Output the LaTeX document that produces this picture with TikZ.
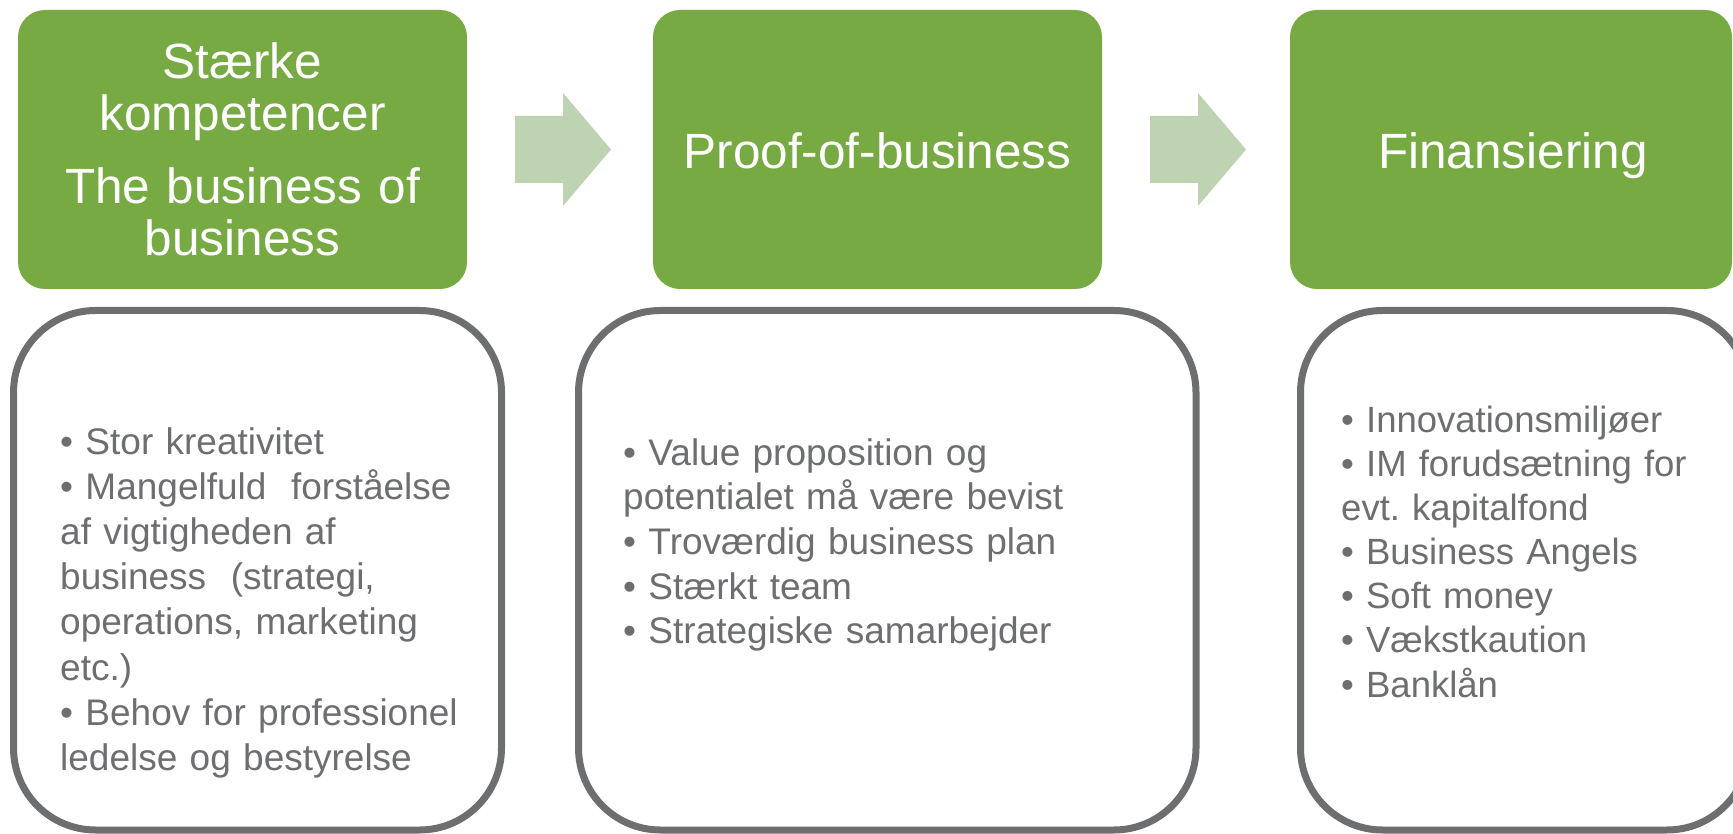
\documentclass[tikz,border=0pt]{standalone}
\usepackage{fontspec}
\setmainfont{Liberation Sans}
\definecolor{boxgreen}{RGB}{119,170,67}
\definecolor{arrowgreen}{RGB}{189,211,178}
\definecolor{framegray}{RGB}{109,110,112}
\definecolor{textgray}{RGB}{109,110,112}
\begin{document}
\frenchspacing
\begin{tikzpicture}[x=1pt,y=-1pt,
  greenbox/.style={fill=boxgreen, draw=none, rounded corners=27pt, inner sep=0pt},
  graybox/.style={draw=framegray, line width=7pt, rounded corners=82pt, inner sep=0pt, fill=white},
  titletext/.style={text=white, font=\fontsize{49.5}{51.5}\selectfont, align=center, inner sep=0pt, anchor=base},
  bodytext/.style={text=textgray, align=left, inner sep=0pt, anchor=base west, text width=520pt},
  blockarrow/.style={fill=arrowgreen}]
\useasboundingbox (0,0) rectangle (1733,834);
\clip (0,0) rectangle (1733,834);
% green header boxes
\node[greenbox, minimum width=449pt, minimum height=279pt] (g1) at (242.5,149.5) {};
\node[greenbox, minimum width=449pt, minimum height=279pt] (g2) at (877.5,149.5) {};
\node[greenbox, minimum width=442pt, minimum height=279pt] (g3) at (1511,149.5) {};
% titles
\node[titletext, text width=440pt] (t1) at (242.5,79) {Stærke\\kompetencer\\[22pt]The business of\\business};
\node[titletext] (t2) at (877.5,169) {Proof-of-business};
\node[titletext] (t3) at (1513,169) {Finansiering};
% block arrows
\fill[blockarrow] (515,116) -- (563,116) -- (563,93) -- (611,149.5) -- (563,206) -- (563,183) -- (515,183) -- cycle;
\fill[blockarrow] (1150,116) -- (1198,116) -- (1198,93) -- (1246,149.5) -- (1198,206) -- (1198,183) -- (1150,183) -- cycle;
% gray content boxes
\node[graybox, minimum width=488pt, minimum height=519.5pt] (b1) at (257.5,570.25) {};
\node[graybox, minimum width=617.5pt, minimum height=519.5pt] (b2) at (887.25,570.25) {};
\node[graybox, minimum width=448.5pt, minimum height=519.5pt] (b3) at (1524.75,570.25) {};
% body texts
\node[bodytext, font=\fontsize{37}{45.2}\selectfont] (l1) at (60,454) {• Stor kreativitet\\• Mangelfuld\ \ forståelse\\af vigtigheden af\\business\ \ (strategi,\\operations, marketing\\etc.)\\• Behov for professionel\\ledelse og bestyrelse};
\node[bodytext, font=\fontsize{37}{44.7}\selectfont] (l2) at (623,465) {• Value proposition og\\potentialet må være bevist\\• Troværdig business plan\\• Stærkt team\\• Strategiske samarbejder};
\node[bodytext, font=\fontsize{36.5}{44.2}\selectfont] (l3) at (1341,432) {• Innovationsmiljøer\\• IM forudsætning for\\evt. kapitalfond\\• Business Angels\\• Soft money\\• Vækstkaution\\• Banklån};
\end{tikzpicture}
\end{document}
